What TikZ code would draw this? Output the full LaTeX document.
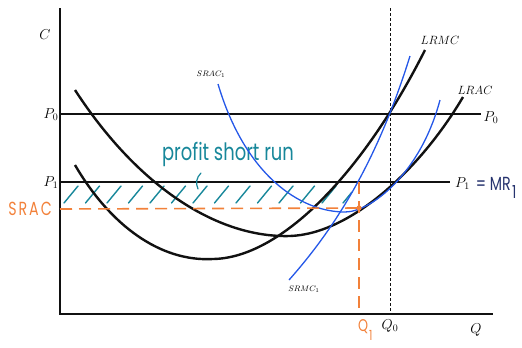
\documentclass[tikz,border=0pt]{standalone}
\usepackage{fontspec}
\usepackage{graphicx}
\newfontfamily\hand[FakeStretch=0.75]{Poppins}
\usetikzlibrary{positioning,calc}
\definecolor{Ink}{HTML}{111111}
\definecolor{Blue}{HTML}{2457E8}
\definecolor{Teal}{HTML}{17879A}
\definecolor{Orange}{HTML}{F2813A}
\definecolor{Navy}{HTML}{26336E}

\begin{document}
\begin{tikzpicture}[x=1bp,y=-1bp,
  axis/.style={draw=Ink,line width=1.5bp},
  price/.style={draw=Ink,line width=1.2bp},
  longrun/.style={draw=Ink,line width=2.4bp},
  shortrun/.style={draw=Blue,line width=1.3bp},
  guide/.style={draw=Ink,line width=0.7bp,dash pattern=on 3bp off 2bp},
  mark1/.style={draw=Orange,line width=1.6bp,dash pattern=on 12bp off 7bp},
  hatch/.style={draw=Teal,line width=1.4bp,line cap=round},
  lab/.style={inner sep=0pt,font=\fontsize{14}{16}\selectfont},
  tiny/.style={inner sep=0pt,font=\fontsize{8}{9}\selectfont},
  handlab/.style={inner sep=0pt}]
 \useasboundingbox (0,0) rectangle (522,347);
 % axes
 \coordinate (O) at (60,314);
 \coordinate (top) at (60,8);
 \coordinate (right) at (493,314);
 \draw[axis] (top) -- (O) -- (right);
 \node[lab] (c) at (45,35) {$C$};
 \node[lab] (q) at (476,330) {$Q$};
 % price lines
 \node[lab] (p0l) at (51,115) {$P_0$};
 \node[lab] (p1l) at (51,183) {$P_1$};
 \node[lab] (p0r) at (491,118) {$P_0$};
 \node[lab,anchor=west] (p1r) at (455,184) {$P_1$};
 \node[handlab,anchor=west,text=Navy] (mr) at ([xshift=2bp]p1r.east) {\hand\fontsize{19}{20}\selectfont{} = MR};
 \node[handlab,anchor=north west,text=Navy] (mr1) at ([xshift=1bp,yshift=5bp]mr.south east) {\hand\fontsize{18}{19}\selectfont 1};
 \draw[price] (60,114) -- (481,114);
 \draw[price] (60,182) -- (450,182);
 % profit area
 \foreach \i in {0,...,12}
   \draw[hatch] ({64+21.5*\i},203) -- ++(14,-17);
 \draw[hatch] (343,203) -- ++(9,-11);
 \node[handlab,text=Teal] (profit) at (228,154) {\hand\fontsize{24}{26}\selectfont profit short run};
 \draw[hatch,line width=1.2bp] (201,173) to[bend right=35] (198,189);
 % Q0
 \draw[guide] (390,8) -- (390,314);
 \node[lab] (q0) at (390,326) {$Q_0$};
 % long run curves
 \draw[longrun] (75,90) .. controls (140,190) and (220,238) .. (290,236) .. controls (350,234) and (420,170) .. (463,97);
 \draw[longrun] (75,165) .. controls (110,225) and (160,262) .. (213,259) .. controls (280,258) and (362,175) .. (425,50);
 \node[lab,font=\fontsize{11.5}{13}\selectfont] (lrmc) at (440,40) {$LRMC$};
 \node[lab,font=\fontsize{11.5}{13}\selectfont] (lrac) at (475,90) {$LRAC$};
 % short run curves
 \draw[shortrun] (218,84) .. controls (245,175) and (300,212) .. (345,212) .. controls (370,212) and (420,175) .. (440,100);
 \draw[shortrun] (289,280) .. controls (335,228) and (377,162) .. (410,56);
 \node[tiny] (sraclab) at (211,74) {$SRAC_1$};
 \node[tiny] (srmclab) at (304,289) {$SRMC_1$};
 % SRAC and Q1
 \coordinate (d) at (359,208);
 \draw[mark1] (60,209) -- (d);
 \draw[mark1] (359,182) -- (359,314);
 \fill[Orange] (d) circle (2.6bp);
 \node[handlab,text=Orange] (srac) at (30,209) {\hand\fontsize{19}{20}\selectfont S\hspace{2bp}R\hspace{2bp}A\hspace{2bp}C};
 \node[handlab,text=Orange] (q1) at (363,327) {\hand\fontsize{17}{18}\selectfont Q};
 \node[handlab,anchor=south west,text=Orange] (q1s) at (369,341) {\hand\fontsize{14}{15}\selectfont 1};
\end{tikzpicture}
\end{document}
